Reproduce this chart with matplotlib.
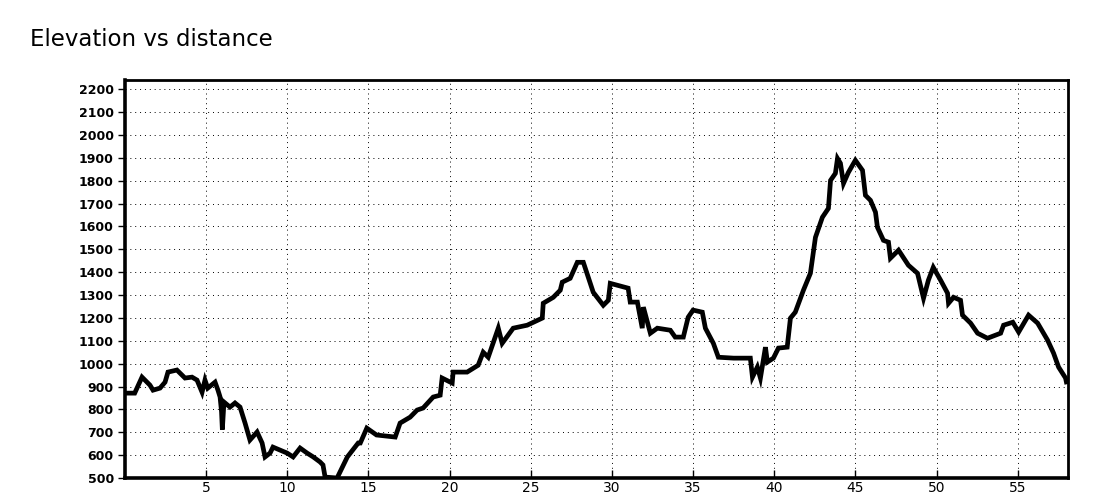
import matplotlib.pyplot as plt

# distance (km) and elevation (m)
distance = [0.0, 0.6, 1.05, 1.54, 1.73, 2.16, 2.47, 2.65, 3.2, 3.4, 3.7, 4.13, 4.44, 4.75,
            4.93, 5.1, 5.55, 5.73, 5.86, 5.95, 6.0, 6.1, 6.47, 6.78, 7.09, 7.4, 7.7, 8.14,
            8.45, 8.63, 8.94, 9.12, 9.56, 9.99, 10.36, 10.79, 11.22, 11.6, 12.02, 12.2,
            12.33, 13.07, 13.4, 13.7, 14.37, 14.5, 14.9, 15.5, 16.65, 16.95, 17.57, 18.0,
            18.37, 18.99, 19.42, 19.54, 20.16, 20.22, 21.08, 21.76, 22.07, 22.38, 23.0,
            23.24, 23.92, 24.78, 25.71, 25.77, 26.39, 26.82, 26.94, 27.43, 27.87, 28.24,
            28.85, 29.47, 29.78, 29.9, 31.0, 31.13, 31.57, 31.87, 31.94, 32.37, 32.8,
            33.6, 33.9, 34.4, 34.7, 35.0, 35.57, 35.76, 36.25, 36.56, 37.5, 38.53, 38.66,
            38.96, 39.15, 39.46, 39.58, 39.95, 40.26, 40.8, 41.0, 41.3, 41.8, 42.23, 42.54,
            42.97, 43.34, 43.47, 43.77, 43.9, 44.08, 44.27, 44.57, 45.0, 45.44, 45.62,
            45.93, 46.24, 46.36, 46.73, 47.04, 47.16, 47.66, 48.27, 48.83, 49.2, 49.5,
            49.8, 50.25, 50.68, 50.74, 51.05, 51.48, 51.6, 52.1, 52.53, 53.14, 53.95,
            54.13, 54.7, 55.06, 55.67, 56.23, 56.84, 57.21, 57.52, 57.95, 58.0]
elevation = [871, 871, 941, 906, 884, 893, 919, 963, 972, 958, 937, 941, 928, 875,
             928, 893, 919, 884, 854, 790, 712, 832, 810, 828, 810, 740, 666, 701,
             653, 592, 609, 635, 622, 609, 592, 631, 609, 592, 570, 557,
             504, 500, 548, 592, 653, 653, 718, 688, 679, 740, 766, 797,
             806, 854, 862, 937, 915, 963, 963, 993, 1050, 1028, 1155,
             1089, 1155, 1168, 1199, 1264, 1290, 1321, 1356, 1373, 1443, 1443,
             1312, 1255, 1277, 1351, 1330, 1269, 1269, 1155, 1247, 1133, 1155,
             1146, 1116, 1116, 1203, 1234, 1225, 1155, 1089, 1028, 1024, 1024, 941,
             985, 937, 1072, 1007, 1024, 1068, 1072, 1199, 1225, 1321, 1395, 1552,
             1640, 1679, 1801, 1832, 1897, 1876, 1788, 1836, 1889, 1845, 1736,
             1714, 1662, 1596, 1539, 1531, 1461, 1496, 1430, 1395, 1286, 1365,
             1421, 1365, 1308, 1264, 1290, 1277, 1212, 1177, 1133, 1111, 1133,
             1168, 1181, 1138, 1212, 1177, 1103, 1046, 985, 937, 920]

x_ticks = [5, 10, 15, 20, 25, 30, 35, 40, 45, 50, 55]
y_ticks = list(range(500, 2201, 100))

fig = plt.figure(figsize=(11, 5), dpi=100)
ax = fig.add_axes([0.1136, 0.044, 0.8573, 0.796])

ax.plot(distance, elevation, color='black', linewidth=3.4, solid_joinstyle='miter')

ax.set_xlim(0, 58.1)
ax.set_ylim(500, 2240)
ax.set_xticks(x_ticks)
ax.set_yticks(y_ticks)

ax.grid(True, color='black', linestyle=(0, (1, 4)), linewidth=0.7)
ax.tick_params(axis='x', direction='in', length=6, width=1, labelsize=10, pad=2)
ax.tick_params(axis='y', direction='out', length=5, width=1, labelsize=9, pad=3)
for lab in ax.get_yticklabels():
    lab.set_fontweight('bold')

for side in ['left', 'bottom']:
    ax.spines[side].set_linewidth(2.6)
for side in ['top', 'right']:
    ax.spines[side].set_linewidth(2.0)

fig.text(0.027, 0.92, 'Elevation vs distance', fontsize=16.5, va='center', ha='left')

fig.savefig('out.png', dpi=100)
